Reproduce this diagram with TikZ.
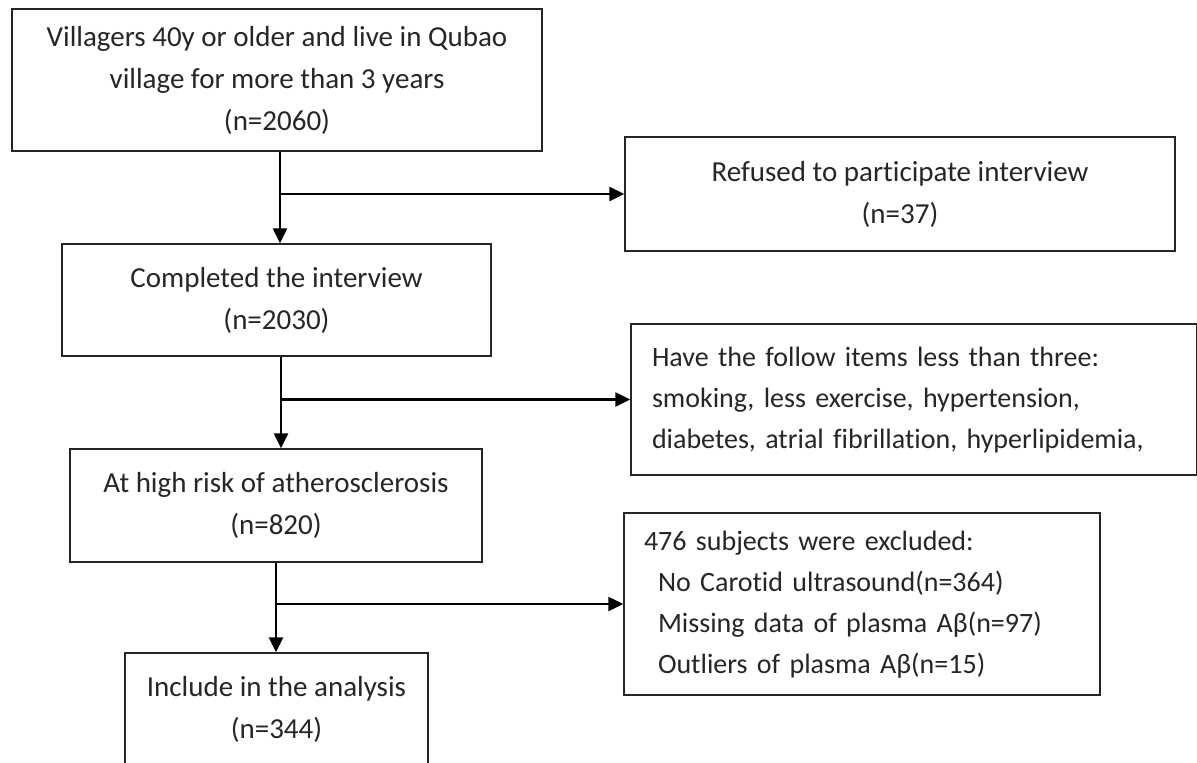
\documentclass[tikz,border=0pt]{standalone}
\usepackage{fontspec}
\setmainfont{Carlito}[Ligatures=NoCommon]
\usetikzlibrary{arrows.meta}
\begin{document}
\begin{tikzpicture}[x=1pt,y=-1pt,
  box/.style={draw=black!85, line width=1.4pt, rectangle, align=center, inner sep=0pt,
    font=\fontsize{29}{42}\selectfont, text=black!85},
  sidebox/.style={draw=black!85, line width=1.4pt, rectangle, align=left, inner ysep=0pt,
    font=\fontsize{28}{41}\selectfont, text=black!85},
  arr/.style={line width=2.4pt, -{Triangle[length=15pt,width=14pt]}}]
\useasboundingbox (0,0) rectangle (1197,763);
\fill[white] (0,0) rectangle (1197,763);

\node[box, minimum width=530pt, minimum height=142pt] (b1) at (277,80)
  {Villagers 40y or older and live in Qubao\\village for more than 3 years\\(n=2060)};
\node[box, minimum width=550pt, minimum height=114pt] (r1) at (900,194)
  {Refused to participate interview\\(n=37)};
\node[box, minimum width=429pt, minimum height=112pt] (b2) at (276.5,300)
  {Completed the interview\\(n=2030)};
\node[sidebox, inner xsep=21pt, text width=524pt, minimum height=151pt] (r2) at (914,399.5)
  {\begin{tabular}{@{}l@{}}Have the follow items less than three:\\smoking, less exercise, hypertension,\\diabetes, atrial fibrillation, hyperlipidemia,\end{tabular}};
\node[box, minimum width=412pt, minimum height=113pt] (b3) at (276,505.5)
  {At high risk of atherosclerosis\\(n=820)};
\node[sidebox, inner xsep=20pt, text width=436pt, minimum height=182pt] (r3) at (862,604)
  {\begin{tabular}{@{}l@{}}476 subjects were excluded:\\\hspace*{14pt}No Carotid ultrasound(n=364)\\\hspace*{14pt}Missing data of plasma Aβ(n=97)\\\hspace*{14pt}Outliers of plasma Aβ(n=15)\end{tabular}};
\node[box, minimum width=303pt, minimum height=112pt] (b4) at (276.5,709)
  {Include in the analysis\\(n=344)};

\coordinate (v1) at (280,0);
\coordinate (v2) at (281,0);
\coordinate (v3) at (276,0);

\draw[arr] (b1.south -| v1) -- (b2.north -| v1);
\draw[arr] (r1.west -| v1) -- (r1.west);
\draw[arr] (b2.south -| v2) -- (b3.north -| v2);
\draw[arr] (r2.west -| v2) -- (r2.west);
\draw[arr] (b3.south -| v3) -- (b4.north -| v3);
\draw[arr] (r3.west -| v3) -- (r3.west);
\end{tikzpicture}
\end{document}
